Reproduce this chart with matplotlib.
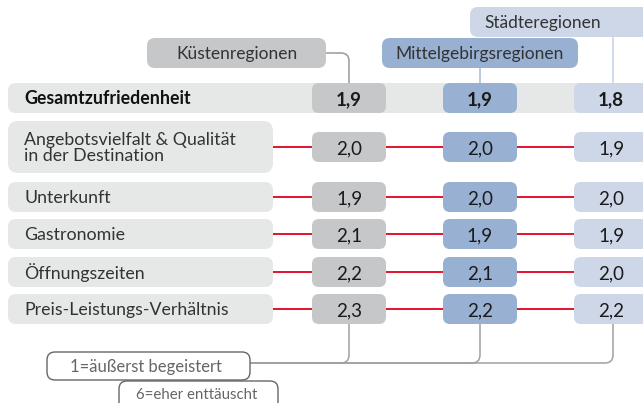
import matplotlib
matplotlib.use("Agg")
import matplotlib.pyplot as plt
from matplotlib.patches import FancyBboxPatch, PathPatch
from matplotlib.path import Path

plt.rcParams['font.family'] = ['Lato', 'DejaVu Sans']

# data
regions = ["Küstenregionen", "Mittelgebirgsregionen", "Städteregionen"]
categories = ["Gesamtzufriedenheit", "Angebotsvielfalt & Qualität\nin der Destination",
              "Unterkunft", "Gastronomie", "Öffnungszeiten", "Preis-Leistungs-Verhältnis"]
kuesten = [1.9, 2.0, 1.9, 2.1, 2.2, 2.3]
mittel = [1.9, 2.0, 2.0, 1.9, 2.1, 2.2]
staedte = [1.8, 1.9, 2.0, 1.9, 2.0, 2.2]
legend_texts = ["1=äußerst begeistert", "6=eher enttäuscht"]

# layout (pixel space)
W, H = 643, 403
col_x = [349, 480, 611]
row_y = [98, 147, 197, 234, 272, 309]
row_h = [30, 52, 30, 30, 30, 30]
box_w, box_h = 74, 30
colors = ["#c6c7c9", "#98b0d1", "#cdd7e8"]
line_cols = ["#9a9a9a", "#a9bcd8", "#c5d1e6"]
band_col = "#e6e7e7"
red = "#e2001a"

fig = plt.figure(figsize=(W / 100, H / 100), dpi=100)
ax = fig.add_axes([0, 0, 1, 1])
ax.set_xlim(0, W)
ax.set_ylim(H, 0)
ax.axis("off")


def rbox(x0, y0, w, h, fc, r=7, ec="none", lw=0, z=2):
    p = FancyBboxPatch((x0 + r, y0 + r), w - 2 * r, h - 2 * r,
                       boxstyle="round,pad=%g" % r, fc=fc, ec=ec, lw=lw, zorder=z)
    ax.add_patch(p)


def elbow(pts, color, lw=1.1, z=1):
    # start, corner, end -> line with a rounded corner
    (x0, y0), (xc, yc), (x1, y1) = pts
    r = 8
    def toward(a, b):
        dx, dy = b[0] - a[0], b[1] - a[1]
        d = (dx ** 2 + dy ** 2) ** 0.5
        return (a[0] + dx / d * r, a[1] + dy / d * r)
    p1 = toward((xc, yc), (x0, y0))
    p2 = toward((xc, yc), (x1, y1))
    verts = [(x0, y0), p1, (xc, yc), p2, (x1, y1)]
    codes = [Path.MOVETO, Path.LINETO, Path.CURVE3, Path.CURVE3, Path.LINETO]
    ax.add_patch(PathPatch(Path(verts, codes), fc="none", ec=color, lw=lw, zorder=z))


# region header boxes
hdr = [(147, 38, 179, 30), (382, 38, 196, 30), (470, 7, 190, 30)]
for (x0, y0, w, h), name, c in zip(hdr, regions, colors):
    rbox(x0, y0, w, h, c, r=8, z=3)
    tx = x0 + w / 2 if name != "Städteregionen" else 543
    ax.text(tx, y0 + h / 2 + 1, name, ha="center", va="center", fontsize=12.5,
            color="#333333", zorder=4)

# header connectors
elbow([(326, 53), (col_x[0], 53), (col_x[0], row_y[0])], line_cols[0])
ax.plot([col_x[1], col_x[1]], [68, row_y[0]], color=line_cols[1], lw=1.1, zorder=1)
ax.plot([613, 613], [37, row_y[0]], color=line_cols[2], lw=1.1, zorder=1)

# rows
values = [kuesten, mittel, staedte]
for i, (cat, y, h) in enumerate(zip(categories, row_y, row_h)):
    if i == 0:
        rbox(8, y - h / 2, 700, h, band_col, r=8, z=2)
        ax.text(24, y + 1, cat, ha="left", va="center", fontsize=12.8,
                fontweight="bold", color="#111111", zorder=4)
    else:
        rbox(8, y - h / 2, 265, h, band_col, r=10 if h > 40 else 8, z=2)
        ax.text(24, y + 1, cat, ha="left", va="center", fontsize=12.8,
                color="#333333", linespacing=0.95, zorder=4)
        ax.plot([273, col_x[2]], [y, y], color=red, lw=1.3, zorder=1)
    for j in range(3):
        rbox(col_x[j] - box_w / 2, y - box_h / 2, box_w, box_h, colors[j], r=7, z=3)
        ax.text(col_x[j], y + 2, ("%.1f" % values[j][i]).replace(".", ","),
                ha="center", va="center", fontsize=13.5,
                fontweight="bold" if i == 0 else "normal", color="#1a1a1a", zorder=4)

# bottom connectors to legend
base_y = 363
for j in range(3):
    xx = col_x[j] + (2 if j == 2 else 0)
    elbow([(xx, row_y[-1] + box_h / 2), (xx, base_y), (250, base_y)], "#a0a0a0")

# legend boxes
rbox(47, 352, 203, 28, "white", r=8, ec="#666666", lw=1.0, z=3)
ax.text(146, 367, legend_texts[0], ha="center", va="center", fontsize=12,
        color="#666666", zorder=4)
rbox(119, 381, 159, 35, "white", r=8, ec="#666666", lw=1.0, z=3)
ax.text(197, 395, legend_texts[1], ha="center", va="center", fontsize=10.8,
        color="#666666", zorder=4)

fig.savefig("out.png", dpi=100)
